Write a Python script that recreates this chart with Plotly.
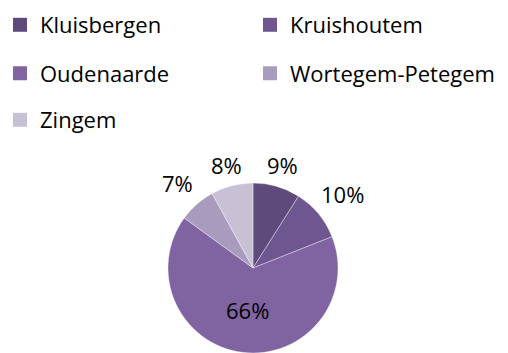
import math
import plotly.graph_objects as go

# Municipal shares (percent)
municipalities = ["Kluisbergen", "Kruishoutem", "Oudenaarde", "Wortegem-Petegem", "Zingem"]
shares = [9, 10, 66, 7, 8]
colors = ["#5F4B7B", "#6E5790", "#8064A2", "#A99BBD", "#C8C1D6"]
inside_label = [False, False, True, False, False]

FONT = "Open Sans"
W, H = 508, 353

# Pie geometry in pixels
CX, CY, R = 253, 268, 85

fig = go.Figure()

fig.add_trace(go.Pie(
    labels=municipalities,
    values=shares,
    marker=dict(colors=colors, line=dict(color="rgba(255,255,255,0.6)", width=0.6)),
    sort=False,
    direction="clockwise",
    rotation=0,
    texttemplate=["%{value}%" if ins else "" for ins in inside_label],
    textposition="inside",
    insidetextorientation="horizontal",
    textfont=dict(family=FONT, size=22, color="black"),
    showlegend=False,
    hoverinfo="label+percent",
    domain=dict(x=[(CX - R) / W, (CX + R) / W], y=[(H - CY - R) / H, (H - CY + R) / H]),
))

# Outside percentage labels, placed beyond the midpoint of each slice
total = sum(shares)
cum = 0
for v, ins in zip(shares, inside_label):
    theta = 2 * math.pi * (cum + v / 2) / total
    cum += v
    if ins:
        continue
    d = R + 17 + 18 * abs(math.sin(theta))
    px = CX + d * math.sin(theta)
    py = CY - d * math.cos(theta)
    fig.add_annotation(
        x=px / W, y=1 - py / H, xref="paper", yref="paper",
        text=f"{v}%", showarrow=False, xanchor="center", yanchor="middle",
        font=dict(family=FONT, size=22, color="black"),
    )

# Legend: two entries per row, one legend per row
legend_names = ["legend", "legend2", "legend3"]
for i, (name, col) in enumerate(zip(municipalities, colors)):
    fig.add_trace(go.Scatter(
        x=[None], y=[None], mode="markers", name=name,
        marker=dict(symbol="square", size=14, color=col),
        legend=legend_names[i // 2],
        hoverinfo="skip",
    ))

row_y = [1 - 25 / H, 1 - 73.5 / H, 1 - 120 / H]
legend_common = dict(
    orientation="h", xanchor="left", yanchor="middle", x=0,
    entrywidth=205, entrywidthmode="pixels",
    font=dict(family=FONT, size=22, color="black"),
    bgcolor="rgba(0,0,0,0)", itemclick=False, itemdoubleclick=False,
)
fig.update_layout(
    width=W, height=H,
    margin=dict(l=0, r=0, t=0, b=0),
    paper_bgcolor="white", plot_bgcolor="white",
    xaxis=dict(visible=False), yaxis=dict(visible=False),
    legend=dict(y=row_y[0], **legend_common),
    legend2=dict(y=row_y[1], **legend_common),
    legend3=dict(y=row_y[2], **legend_common),
)

fig.write_html("out.html")
